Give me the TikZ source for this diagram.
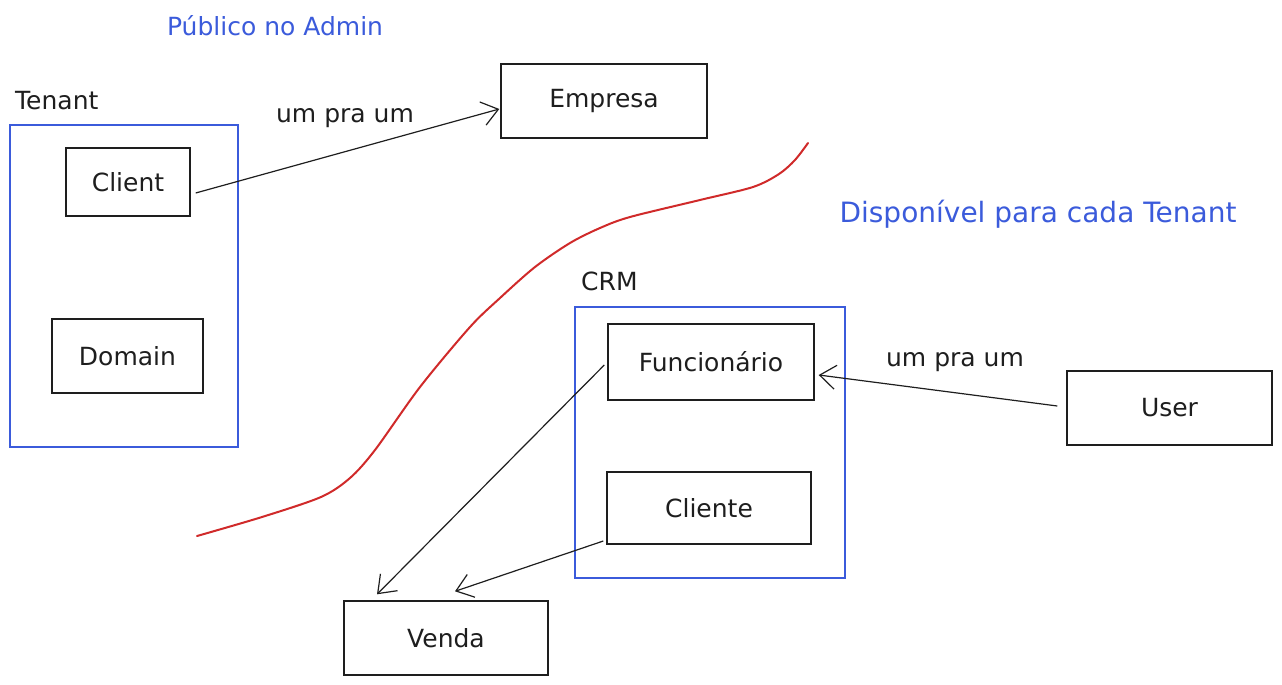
\documentclass[tikz,border=0pt]{standalone}
\usepackage{fontspec}
\setmainfont{DejaVu Sans}
\usetikzlibrary{arrows.meta,calc}
\definecolor{exblue}{HTML}{3B5BDB}
\definecolor{exred}{HTML}{D02A2A}
\definecolor{exink}{HTML}{1E1E1E}
\tikzset{
  box/.style={draw=exink, line width=1.4pt, rectangle, inner sep=0pt, font=\fontsize{25}{30}\selectfont, text=exink},
  group/.style={draw=exblue, line width=1.1pt, rectangle, inner sep=0pt},
  lbl/.style={font=\fontsize{25}{30}\selectfont, text=exink, inner sep=0pt},
  bluelbl/.style={font=\fontsize{25}{30}\selectfont, text=exblue, inner sep=0pt},
  conn/.style={draw=exink, line width=1.2pt, -{Straight Barb[length=16pt,width=24pt,line width=1.2pt]}},
  redline/.style={draw=exred, line width=2pt, line cap=round}
}
\begin{document}
\begin{tikzpicture}[x=1pt,y=-1pt]
\useasboundingbox (0,0) rectangle (1282,685);
% titles
\node[bluelbl] (pub) at (275,26) {Público no Admin};
\node[bluelbl, font=\fontsize{28}{32}\selectfont] (disp) at (1038,214) {Disponível para cada Tenant};
% group labels
\node[lbl, anchor=west] (tenantlbl) at (15,101) {Tenant};
\node[lbl, anchor=west] (crmlbl) at (581,281) {CRM};
% groups
\node[group, minimum width=228, minimum height=322] (tenant) at (124,286) {};
\node[group, minimum width=270, minimum height=271] (crm) at (710,442.5) {};
% boxes
\node[box, minimum width=124, minimum height=68] (client) at (128,182) {Client};
\node[box, minimum width=151, minimum height=74] (domain) at (127.5,356) {Domain};
\node[box, minimum width=206, minimum height=74] (empresa) at (604,101) {Empresa};
\node[box, minimum width=206, minimum height=76] (func) at (711,362) {Funcionário};
\node[box, minimum width=204, minimum height=72] (cliente) at (709,508) {Cliente};
\node[box, minimum width=205, minimum height=74] (user) at (1169.5,408) {User};
\node[box, minimum width=204, minimum height=74] (venda) at (446,638) {Venda};
% red divider
\draw[redline] plot[smooth, tension=0.5] coordinates {(197,536) (262,517) (321,497) (350,478) (375,450) (420,387) (470,327) (500,298) (535,267) (570,243) (600,228) (630,217) (700,200) (753,187) (779,174) (795,160) (808,143)};
% connectors
\draw[conn] ($(client.east)+(5,11)$) -- ($(empresa.west)+(-1,8)$);
\node[lbl] (lbl1) at (345,118) {um pra um};
\draw[conn] ($(user.west)+(-9,-2)$) -- ($(func.east)+(4,13)$);
\node[lbl] (lbl2) at (955,362) {um pra um};
\draw[conn] ($(func.west)+(-3,3)$) -- ($(venda.north)+(-69,-6)$);
\draw[conn] ($(cliente.west)+(-3,33)$) -- ($(venda.north)+(9,-9)$);
\end{tikzpicture}
\end{document}
